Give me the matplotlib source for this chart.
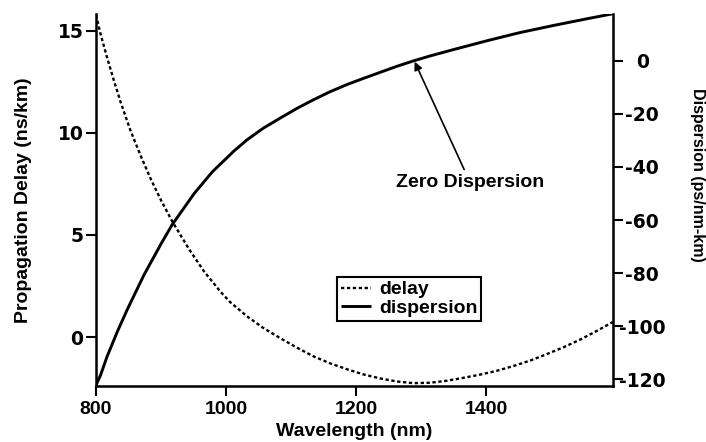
import matplotlib
matplotlib.use("Agg")
import matplotlib.pyplot as plt

plt.rcParams['font.family'] = ['Liberation Sans', 'DejaVu Sans']
plt.rcParams['font.weight'] = 'bold'
plt.rcParams['axes.unicode_minus'] = False

# Data
delay_wl = [800, 807, 817, 828, 838, 853, 869, 884, 900, 917, 942, 966, 992,
            1006, 1032, 1057, 1083, 1109, 1134, 1160, 1186, 1211, 1237, 1263,
            1288, 1314, 1340, 1365, 1391, 1417, 1442, 1468, 1493, 1519, 1545,
            1570, 1595]
delay_ns = [15.78, 14.85, 13.70, 12.52, 11.50, 10.12, 8.86, 7.76, 6.70, 5.68,
            4.36, 3.22, 2.20, 1.72, 1.02, 0.45, -0.05, -0.52, -0.94, -1.29,
            -1.58, -1.83, -2.03, -2.18, -2.26, -2.24, -2.14, -2.00, -1.84,
            -1.65, -1.42, -1.15, -0.84, -0.50, -0.12, 0.30, 0.74]

disp_wl = [800, 807, 817, 833, 848, 874, 900, 917, 951, 979, 1012, 1032, 1057,
           1083, 1109, 1134, 1160, 1186, 1211, 1237, 1263, 1288, 1314, 1350,
           1401, 1452, 1504, 1555, 1595]
disp_ps = [-122.3, -118.5, -111.5, -102.0, -93.8, -80.6, -69.0, -61.8, -50.0,
           -41.8, -34.0, -29.8, -25.4, -21.6, -17.9, -14.7, -11.6, -8.9, -6.6,
           -4.3, -2.0, 0.0, 1.9, 4.3, 7.6, 10.7, 13.4, 15.9, 17.8]

x_ticks = [800, 1000, 1200, 1400]
left_ticks = [0, 5, 10, 15]
right_ticks = [0, -20, -40, -60, -80, -100, -120]

fig = plt.figure(figsize=(7.06, 4.42), dpi=100)
ax = fig.add_axes([96/706, 1 - 386/442, (613-96)/706, (386-14)/442])
ax2 = ax.twinx()

l1, = ax.plot(delay_wl, delay_ns, color='black', lw=1.7,
              linestyle=(0, (1.4, 1.1)), label='delay')
l2, = ax2.plot(disp_wl, disp_ps, color='black', lw=2.1, label='dispersion',
               solid_capstyle='butt', solid_joinstyle='round')

ax.set_xlim(800, 1595)
ax.set_ylim(-2.40, 15.83)
ax2.set_ylim(-122.6, 17.7)

for a in (ax, ax2):
    a.spines['top'].set_visible(False)
    for s in a.spines.values():
        s.set_linewidth(1.8)
ax.spines['right'].set_visible(False)
ax2.spines['left'].set_visible(False)
ax2.spines['bottom'].set_visible(False)

ax.set_xticks(x_ticks)
ax.set_yticks(left_ticks)
ax2.set_yticks(right_ticks)
ax.tick_params(axis='both', direction='out', length=7, width=1.5)
ax.tick_params(axis='x', pad=3.5, labelsize=14)
ax.tick_params(axis='y', pad=2, labelsize=13.5)
ax2.tick_params(axis='y', direction='out', length=7, width=1.5,
                labelsize=13.5, pad=14)
for lab in ax2.get_yticklabels():
    lab.set_horizontalalignment('center')
for lab in ax.get_yticklabels() + ax2.get_yticklabels():
    lab.set_fontfamily(['DejaVu Sans'])
    lab.set_fontweight('bold')
for lab in ax.get_xticklabels():
    lab.set_fontweight('bold')

ax.set_xlabel('Wavelength (nm)', fontsize=14, fontweight='bold', va='center')
ax.xaxis.set_label_coords(0.5, (386-432)/372)
ax.set_ylabel('Propagation Delay (ns/km)', fontsize=14, fontweight='bold',
              va='center')
ax.yaxis.set_label_coords((23-96)/517, 0.5)
ax2.set_ylabel('Dispersion (ps/nm-km)', fontsize=11.5, fontweight='bold',
               rotation=270, va='center', ha='center')
ax2.yaxis.set_label_coords((697-96)/517, (386-175)/372)

ax2.annotate('Zero Dispersion', xy=(1290, -0.3), xytext=(1375, -45.7),
             fontsize=14, fontweight='bold', ha='center', va='center',
             arrowprops=dict(arrowstyle='-|>', color='black', lw=1.2,
                             mutation_scale=12, shrinkA=1, shrinkB=0))

leg = ax2.legend([l1, l2], ['delay', 'dispersion'], loc='upper left',
                 bbox_to_anchor=((337-96)/517, (386-277)/372),
                 borderaxespad=0, frameon=True, fancybox=False,
                 edgecolor='black', framealpha=1, labelspacing=0.05,
                 borderpad=0.2, handlelength=1.55, handletextpad=0.4,
                 prop={'weight': 'bold', 'size': 14})
leg.get_frame().set_linewidth(1.5)

fig.savefig('out.png', dpi=100)
